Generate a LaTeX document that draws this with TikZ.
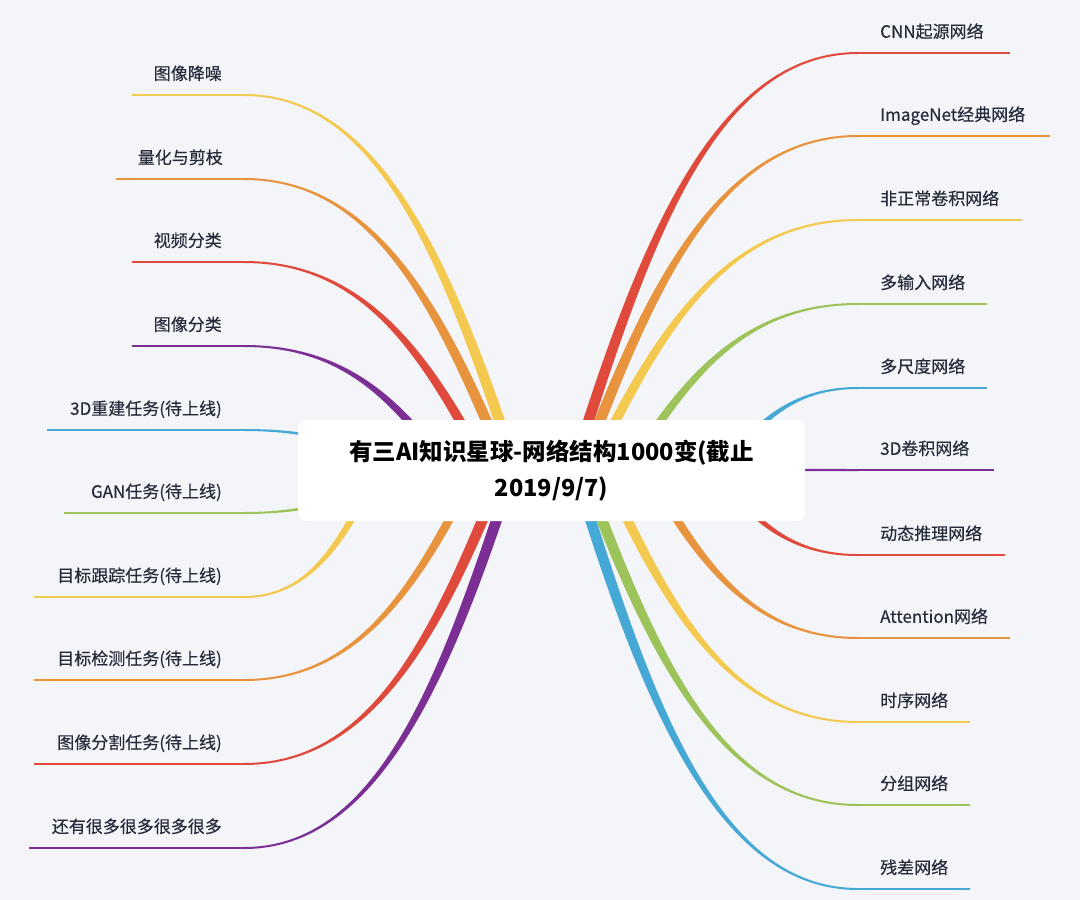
\documentclass[tikz,border=0pt]{standalone}
\usepackage{fontspec}
\setmainfont{Noto Sans CJK SC}
\newfontfamily\labfont{Noto Sans CJK SC}[FakeBold=0.3]
\usetikzlibrary{calc}
\definecolor{bgc}{HTML}{F4F5F9}
\definecolor{cred}{HTML}{E04A3C}
\definecolor{corange}{HTML}{E8943E}
\definecolor{cyellow}{HTML}{F4C94F}
\definecolor{cgreen}{HTML}{9DC35B}
\definecolor{cblue}{HTML}{46A8D5}
\definecolor{cpurple}{HTML}{7B2F95}
\definecolor{ctext}{HTML}{262B3A}
\pgfdeclarelayer{bglayer}
\pgfdeclarelayer{branchlayer}
\pgfsetlayers{bglayer,branchlayer,main}
\tikzset{
  lab/.style={inner xsep=22pt, inner ysep=0pt, text height=14pt, text depth=15pt,
    font=\labfont\fontsize{17}{20}\selectfont, text=ctext},
  rlab/.style={lab, anchor=south west, align=left},
  llab/.style={lab, anchor=south east, align=right},
  centerbox/.style={fill=white, rounded corners=8pt, minimum width=507pt, minimum height=101pt,
    align=center, font=\fontsize{23.5}{36}\selectfont\bfseries, text=black, inner sep=0pt},
  uline/.style={line width=2pt}
}
% tapered curved branch: #1 colour, #2 start coordinate, #3 end (knee) coordinate, #4 half width at start
\newcommand\taperbranch[4]{%
  \coordinate (qa) at ($(#2)!0.25!(#3)$);
  \coordinate (qb) at ($(#2)!0.55!(#3)$);
  \coordinate (qc) at ($(#3)!0.5!(#2)$);
  \coordinate (ka) at (qa |- qb);
  \coordinate (kb) at (qc |- #3);
  \fill[#1] ($(#2)!#4!90:(ka)$) .. controls ($(ka)!#4!-90:(#2)$) and ($(kb)!1pt!90:(#3)$) .. ($(#3)!1pt!-90:(kb)$)
     -- ($(#3)!1pt!90:(kb)$) .. controls ($(kb)!1pt!-90:(#3)$) and ($(ka)!#4!90:(#2)$) .. ($(#2)!#4!-90:(ka)$) -- cycle;
}
% right branch: name, y, text width, text, colour, start x, half width
\newcommand\rightbranch[7]{%
  \node[rlab, text width=#3pt] (#1) at (858,#2) {#4};
  \coordinate (#1s) at (#6,470);
  \begin{pgfonlayer}{branchlayer}
    \taperbranch{#5}{#1s}{#1.south west}{#7}
    \draw[#5, uline] (#1.south west) -- (#1.south east);
  \end{pgfonlayer}
}
\newcommand\leftbranch[7]{%
  \node[llab, text width=#3pt] (#1) at (244,#2) {#4};
  \coordinate (#1s) at (#6,470);
  \begin{pgfonlayer}{branchlayer}
    \taperbranch{#5}{#1s}{#1.south east}{#7}
    \draw[#5, uline] (#1.south east) -- (#1.south west);
  \end{pgfonlayer}
}
\begin{document}
\begin{tikzpicture}[x=1pt, y=-1pt]
\begin{pgfonlayer}{bglayer}
  \fill[bgc] (0,0) rectangle (1080,900);
\end{pgfonlayer}
\useasboundingbox (0,0) rectangle (1080,900);

\node[centerbox] (c) at (551.5,470.5) {有三AI知识星球-网络结构1000变(截止\\2019/9/7)};

\rightbranch{r1}{53}{108}{CNN起源网络}{cred}{573}{5.5pt}
\rightbranch{r2}{136}{148}{ImageNet经典网络}{corange}{581}{5.5pt}
\rightbranch{r3}{220}{120}{非正常卷积网络}{cyellow}{591}{5pt}
\rightbranch{r4}{304}{85}{多输入网络}{cgreen}{628}{4.5pt}
\rightbranch{r5}{388}{85}{多尺度网络}{cblue}{722}{3.5pt}
\rightbranch{r6}{470}{92}{3D卷积网络}{cpurple}{600}{3pt}
\rightbranch{r7}{555}{103}{动态推理网络}{cred}{715}{3.5pt}
\rightbranch{r8}{638}{108}{Attention网络}{corange}{647}{4.5pt}
\rightbranch{r9}{722}{68}{时序网络}{cyellow}{604}{5pt}
\rightbranch{r10}{805}{68}{分组网络}{cgreen}{583}{5.5pt}
\rightbranch{r11}{889}{68}{残差网络}{cblue}{575}{5.5pt}

\leftbranch{l1}{95}{68}{图像降噪}{cyellow}{516}{5.5pt}
\leftbranch{l2}{179}{84}{量化与剪枝}{corange}{507}{5.5pt}
\leftbranch{l3}{262}{68}{视频分类}{cred}{487}{5pt}
\leftbranch{l4}{346}{68}{图像分类}{cpurple}{448}{4.5pt}
\leftbranch{l5}{430}{153}{3D重建任务(待上线)}{cblue}{400}{3pt}
\leftbranch{l6}{513}{136}{GAN任务(待上线)}{cgreen}{400}{3pt}
\leftbranch{l7}{597}{166}{目标跟踪任务(待上线)}{cyellow}{377}{4pt}
\leftbranch{l8}{680}{166}{目标检测任务(待上线)}{corange}{475}{4.5pt}
\leftbranch{l9}{764}{166}{图像分割任务(待上线)}{cred}{503}{5.5pt}
\leftbranch{l10}{848}{171}{还有很多很多很多很多}{cpurple}{513}{5.5pt}
\end{tikzpicture}
\end{document}
